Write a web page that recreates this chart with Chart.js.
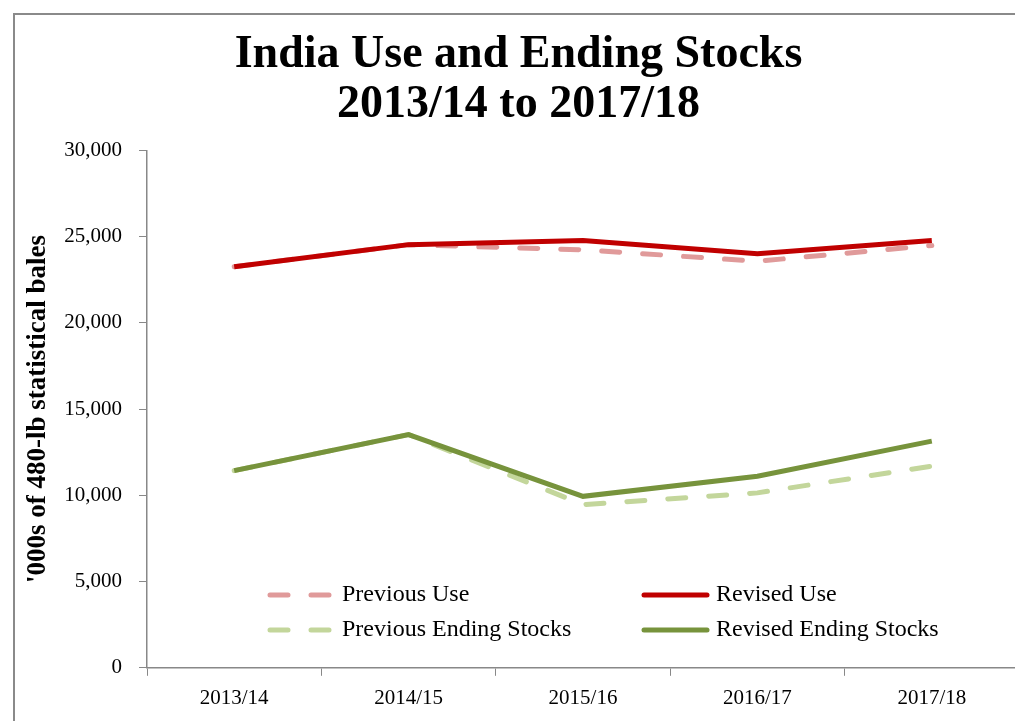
<!DOCTYPE html>
<html>
<head>
<meta charset="utf-8">
<script src="https://cdn.jsdelivr.net/npm/chart.js@4/dist/chart.umd.min.js"></script>
<style>
  html, body { margin: 0; padding: 0; background: #fff; overflow: hidden; }
  #frame { position: absolute; left: 13px; top: 13px; width: 1100px; height: 800px;
           border: 2px solid #8a8a8a; pointer-events: none; }
</style>
</head>
<body>
<canvas id="myChart" width="1030" height="721"></canvas>
<div id="frame"></div>
<script>
// values, in '000 bales
const seasons = ['2013/14', '2014/15', '2015/16', '2016/17', '2017/18'];
const previousUse = [23250, 24530, 24230, 23570, 24480];
const revisedUse = [23250, 24530, 24770, 24000, 24770];
const previousStocks = [11430, 13520, 9460, 10140, 11690];
const revisedStocks = [11430, 13520, 9940, 11100, 13140];

const FONT = "'Liberation Serif', 'DejaVu Serif', serif";

// legend laid out as a 2x2 grid inside the plot, like the original
const gridLegend = {
  id: 'gridLegend',
  afterDatasetsDraw(chart, args, opts) {
    const ctx = chart.ctx;
    const sets = chart.data.datasets;
    ctx.save();
    ctx.font = opts.size + 'px ' + FONT;
    ctx.textBaseline = 'middle';
    ctx.fillStyle = '#000';
    opts.slots.forEach((slot, i) => {
      const ds = sets[i];
      ctx.beginPath();
      ctx.strokeStyle = ds.borderColor;
      ctx.lineWidth = ds.borderWidth;
      ctx.lineCap = 'round';
      ctx.setLineDash(ds.borderDash || []);
      ctx.moveTo(slot.x, slot.y);
      ctx.lineTo(slot.x + opts.lineLen, slot.y);
      ctx.stroke();
      ctx.setLineDash([]);
      ctx.fillText(ds.label, slot.x + opts.lineLen + opts.gap, slot.y);
    });
    ctx.restore();
  }
};

const ctx = document.getElementById('myChart');

const data = {
  labels: seasons,
  datasets: [
    { label: 'Previous Use', data: previousUse, borderColor: '#E09A9A',
      borderWidth: 5, borderDash: [18, 23], borderCapStyle: 'round', order: 2 },
    { label: 'Revised Use', data: revisedUse, borderColor: '#C00000',
      borderWidth: 5, order: 1 },
    { label: 'Previous Ending Stocks', data: previousStocks, borderColor: '#C3D69B',
      borderWidth: 5, borderDash: [18, 23], borderCapStyle: 'round', order: 2 },
    { label: 'Revised Ending Stocks', data: revisedStocks, borderColor: '#77933C',
      borderWidth: 5, order: 1 }
  ]
};

const config = {
  type: 'line',
  data: data,
  options: {
    responsive: false,
    animation: false,
    elements: { point: { radius: 0 }, line: { tension: 0 } },
    layout: { padding: { left: 18, right: 11, top: 0, bottom: 0 } },
    plugins: {
      legend: { display: false },
      tooltip: { enabled: false },
      title: {
        display: true,
        text: ['India Use and Ending Stocks', '2013/14 to 2017/18'],
        color: '#000',
        font: { family: FONT, size: 46, weight: 'bold', lineHeight: 1.09 },
        padding: { top: 30, bottom: 20 }
      },
      gridLegend: {
        size: 24, lineLen: 63, gap: 9,
        slots: [ { x: 270, y: 595 }, { x: 644, y: 595 }, { x: 270, y: 630 }, { x: 644, y: 630 } ]
      }
    },
    scales: {
      x: {
        offset: true,
        grid: { offset: true, drawOnChartArea: false, color: '#888', tickLength: 8 },
        border: { color: '#888', width: 1.5 },
        ticks: { color: '#000', padding: 10, font: { family: FONT, size: 21 } },
      },
      y: {
        min: 0, max: 30000,
        grid: { drawOnChartArea: false, color: '#888', tickLength: 8 },
        border: { color: '#888', width: 1.5 },
        ticks: { stepSize: 5000, color: '#000', padding: 17, font: { family: FONT, size: 21 },
          callback: v => v.toLocaleString('en-US') },
        title: { display: true, text: "'000s of 480-lb statistical bales", color: '#000',
          font: { family: FONT, size: 27, weight: 'bold' }, padding: { top: 4, bottom: 4 } },
        afterFit: s => { s.width = 129; }
      }
    }
  },
  plugins: [gridLegend]
};

const myChart = new Chart(ctx, config);
</script>
</body>
</html>
